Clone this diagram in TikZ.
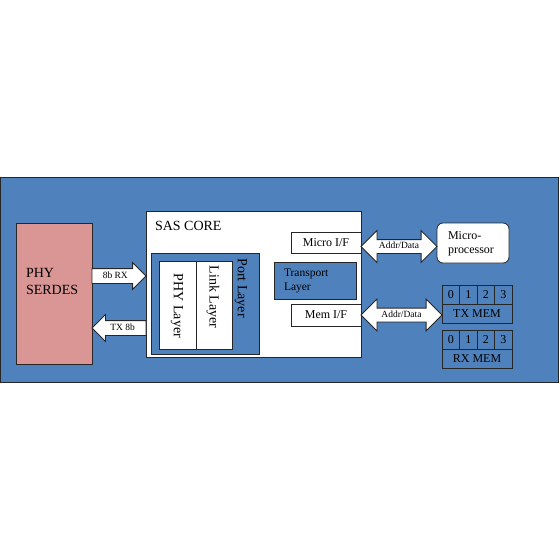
\documentclass[tikz,border=0pt]{standalone}
\usepackage{fontspec}
\setmainfont{Liberation Serif}
\usetikzlibrary{positioning, shapes.arrows, calc}

\definecolor{sasblue}{HTML}{4F81BD}
\definecolor{serdespink}{HTML}{D99694}

\begin{document}
\begin{tikzpicture}[
	x=1pt, y=-1pt,
	box/.style={rectangle, draw=black!85, line width=0.8pt, inner sep=0pt, outer sep=0pt, anchor=north west},
	whitebox/.style={box, fill=white},
	bluebox/.style={box, fill=sasblue},
	memcell/.style={bluebox, minimum width=17.5pt, minimum height=19pt, font=\fontsize{12}{14}\selectfont},
	lbl/.style={inner sep=0pt, outer sep=0pt, align=left},
	linkarrow/.style={single arrow, draw=black!85, fill=white, line width=0.8pt, outer sep=0pt,
		single arrow head extend=6pt, minimum height=54pt, inner xsep=1pt, inner ysep=3pt,
		text height=6.5pt, text depth=1.5pt, font=\fontsize{9.5}{11}\selectfont},
	busarrow/.style={double arrow, draw=black!85, fill=white, line width=0.8pt, outer sep=0pt,
		double arrow head extend=9pt, inner xsep=1pt, inner ysep=2.75pt,
		text height=6pt, text depth=1.5pt, font=\fontsize{9.5}{11}\selectfont}
]
	\useasboundingbox (0,0) rectangle (560,560);

	% board and main blocks
	\node[bluebox, minimum width=557.5pt, minimum height=205pt] (board) at (0.5,177) {};
	\node[box, fill=serdespink, minimum width=76pt, minimum height=141pt] (serdes) at (16,223) {};
	\node[lbl, anchor=north west, font=\fontsize{14}{17}\selectfont] at ($(serdes.north west)+(10,45)$) {PHY\\SERDES};

	\node[whitebox, minimum width=215pt, minimum height=146pt] (core) at (146,211) {};
	\node[lbl, anchor=base west, font=\fontsize{14}{17}\selectfont] at ($(core.north west)+(9,19)$) {SAS CORE};

	% port layer
	\node[bluebox, minimum width=108pt, minimum height=101pt] (port) at (151,253) {};
	\node[whitebox, minimum width=37pt, minimum height=88pt] (phylayer) at (159,261) {};
	\node[whitebox, minimum width=36pt, minimum height=88pt] (linklayer) at (phylayer.north east) {};
	\node[lbl, rotate=-90, font=\fontsize{14}{17}\selectfont] at (241,288) {Port Layer};
	\node[lbl, rotate=-90, font=\fontsize{14}{17}\selectfont] at (213,297) {Link Layer};
	\node[lbl, rotate=-90, font=\fontsize{14}{17}\selectfont] at (177,306) {PHY Layer};

	% interfaces
	\node[whitebox, minimum width=70pt, minimum height=21pt, font=\fontsize{12}{14}\selectfont] (microif) at (291,232) {Micro I/F};
	\node[bluebox, minimum width=82pt, minimum height=37pt] (transport) at (274,262) {};
	\node[lbl, anchor=north west, font=\fontsize{11.5}{14}\selectfont] at ($(transport.north west)+(10,7)$) {Transport\\Layer};
	\node[whitebox, minimum width=70pt, minimum height=22pt, font=\fontsize{12}{14}\selectfont] (memif) at (291,304) {Mem I/F};

	% micro-processor
	\node[whitebox, rounded corners=6pt, minimum width=72pt, minimum height=40pt] (micro) at (437,223) {};
	\node[lbl, anchor=north west, font=\fontsize{12}{14}\selectfont] at ($(micro.north west)+(11,9)$) {Micro-\\processor};

	% memories
	\foreach \i in {0,...,3} {
		\node[memcell] (tx\i) at (442+17.5*\i,285) {\i};
		\node[memcell] (rx\i) at (442+17.5*\i,330) {\i};
	}
	\node[bluebox, minimum width=70pt, minimum height=19pt, font=\fontsize{12}{14}\selectfont] (txmem) at (tx0.south west) {TX MEM};
	\node[bluebox, minimum width=70pt, minimum height=19pt, font=\fontsize{12}{14}\selectfont] (rxmem) at (rx0.south west) {RX MEM};

	% block arrows
	\node[linkarrow, anchor=tail] (rx) at (serdes.east |- 0,276) {8b RX};
	\node[linkarrow, shape border rotate=180, anchor=tip] (tx) at (serdes.east |- 0,328) {TX 8b};
	\node[busarrow, minimum height=76pt, anchor=west] (microbus) at (microif.east |- 0,246.5) {Addr/Data};
	\node[busarrow, minimum height=81pt, anchor=west] (membus) at (memif.east) {Addr/Data};
\end{tikzpicture}
\end{document}
